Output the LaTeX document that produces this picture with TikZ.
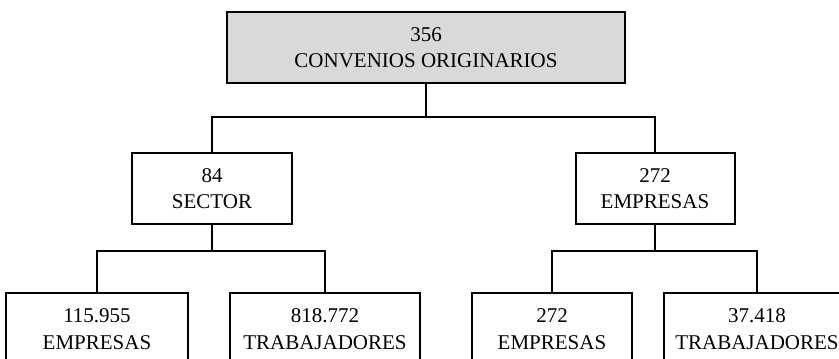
\documentclass[tikz,border=0pt]{standalone}
\usepackage{fontspec}
\setmainfont{Liberation Serif}
\usepackage{tikz}
\usetikzlibrary{positioning,calc}

\begin{document}
\begin{tikzpicture}[
    x=1pt, y=-1pt,
    box/.style={draw, line width=2pt, minimum height=71pt, align=center, inner sep=0pt,
                font=\fontsize{21}{26.5}\selectfont},
    leaf/.style={box, anchor=north, minimum height=72pt},
    conn/.style={line width=1.8pt}
]
\path[use as bounding box, clip] (0,0) rectangle (839,359);

\node[box, fill=black!15, minimum width=398pt] (total) at (426,47.5) {356\\CONVENIOS ORIGINARIOS};
\node[box, minimum width=160pt] (sector) at (212,188.5) {84\\SECTOR};
\node[box, minimum width=159pt] (empresas) at (655,188.5) {272\\EMPRESAS};

\node[leaf, minimum width=182pt] (sempresas) at (97,292) {115.955\\EMPRESAS};
\node[leaf, minimum width=190pt] (strab) at (325,292) {818.772\\TRABAJADORES};
\node[leaf, minimum width=160pt] (eempresas) at (552,292) {272\\EMPRESAS};
\node[leaf, minimum width=186pt] (etrab) at (757,292) {37.418\\TRABAJADORES};

% ramas
\coordinate (split0) at (426,117);
\coordinate (split1) at (212,251);
\coordinate (split2) at (655,251);

\draw[conn] (total.south) -- (split0) -| (sector.north);
\draw[conn] (split0) -| (empresas.north);
\draw[conn] (sector.south) -- (split1) -| (sempresas.north);
\draw[conn] (split1) -| (strab.north);
\draw[conn] (empresas.south) -- (split2) -| (eempresas.north);
\draw[conn] (split2) -| (etrab.north);
\end{tikzpicture}
\end{document}
